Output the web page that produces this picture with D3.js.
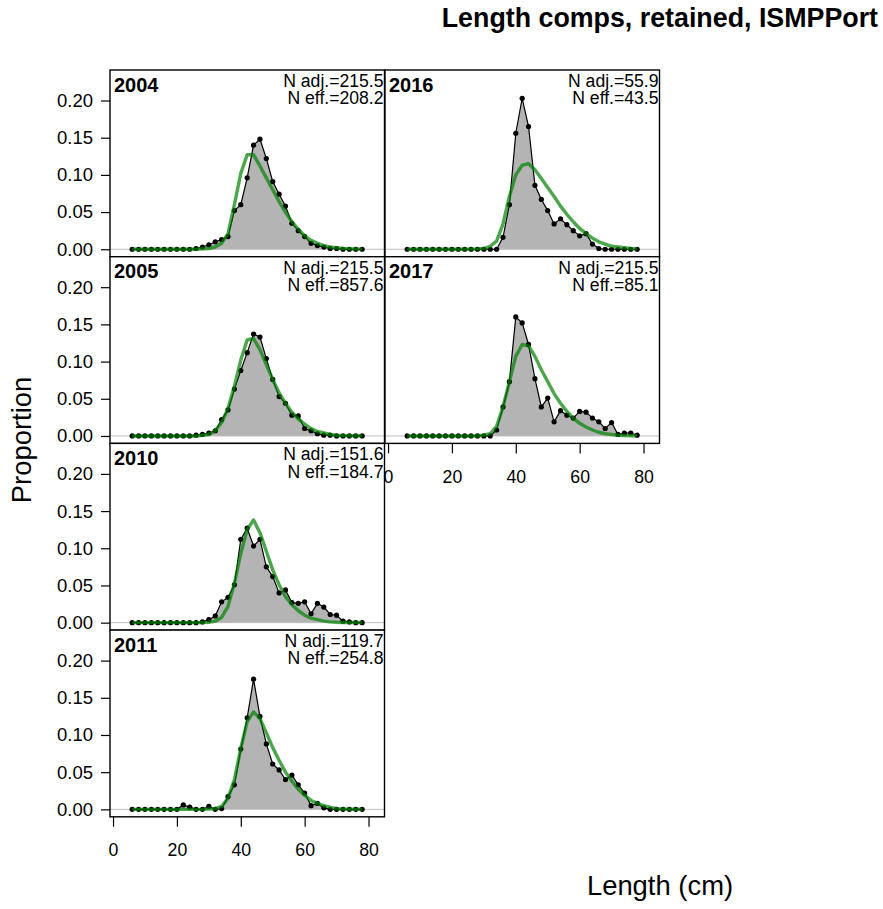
<!DOCTYPE html>
<html>
<head>
<meta charset="utf-8">
<script src="https://cdn.jsdelivr.net/npm/d3@7"></script>
<style>
body { margin: 0; background: #fff; }
text { font-family: "Liberation Sans", Arial, sans-serif; }
</style>
</head>
<body>
<div id="chart"></div>
<script>
// DATA
var lengthBins = [6, 8, 10, 12, 14, 16, 18, 20, 22, 24, 26, 28, 30, 32, 34, 36, 38, 40, 42,
  44, 46, 48, 50, 52, 54, 56, 58, 60, 62, 64, 66, 68, 70, 72, 74, 76, 78]

var years = ["2004", "2005", "2010", "2011", "2016", "2017"]
var nAdj = ["215.5", "215.5", "151.6", "119.7", "55.9", "215.5"]
var nEff = ["208.2", "857.6", "184.7", "254.8", "43.5", "85.1"]

var obs2004 = [0, 0, 0, 0, 0, 0, 0, 0, 0, 0, 0.001, 0.003, 0.006, 0.010, 0.013, 0.017, 0.052, 0.060, 0.096,
  0.140, 0.148, 0.122, 0.091, 0.074, 0.058, 0.035, 0.025, 0.017, 0.008, 0.005, 0.003, 0.001, 0.001, 0, 0, 0, 0]
var exp2004 = [0, 0, 0, 0, 0, 0, 0, 0, 0, 0, 0, 0.0005, 0.001, 0.003, 0.008, 0.021, 0.060, 0.102, 0.127,
  0.127, 0.112, 0.096, 0.080, 0.064, 0.050, 0.037, 0.027, 0.018, 0.012, 0.008, 0.005, 0.003, 0.002, 0.001, 0.0005, 0.0003, 0.0002]

var obs2005 = [0, 0, 0, 0, 0, 0, 0, 0, 0, 0, 0.001, 0.002, 0.004, 0.007, 0.022, 0.035, 0.063, 0.088, 0.112,
  0.137, 0.133, 0.104, 0.076, 0.053, 0.044, 0.028, 0.027, 0.010, 0.007, 0.003, 0.001, 0.001, 0, 0, 0, 0, 0]
var exp2005 = [0, 0, 0, 0, 0, 0, 0, 0, 0, 0, 0, 0.001, 0.002, 0.007, 0.018, 0.037, 0.067, 0.102, 0.129,
  0.131, 0.116, 0.096, 0.076, 0.058, 0.044, 0.032, 0.023, 0.016, 0.010, 0.006, 0.004, 0.002, 0.001, 0.0005, 0.0003, 0.0002, 0.0002]

var obs2010 = [0, 0, 0, 0, 0, 0, 0, 0, 0, 0, 0, 0.001, 0.004, 0.009, 0.028, 0.034, 0.051, 0.112, 0.127,
  0.103, 0.112, 0.075, 0.062, 0.040, 0.044, 0.027, 0.026, 0.028, 0.012, 0.026, 0.021, 0.011, 0.010, 0.002, 0.001, 0, 0]
var exp2010 = [0, 0, 0, 0, 0, 0, 0, 0, 0, 0, 0, 0.0002, 0.0005, 0.002, 0.007, 0.022, 0.053, 0.093, 0.125,
  0.138, 0.121, 0.096, 0.071, 0.051, 0.035, 0.024, 0.016, 0.010, 0.006, 0.004, 0.002, 0.001, 0.0005, 0.0002, 0.0002, 0.0002, 0.0002]

var obs2011 = [0, 0, 0, 0, 0, 0, 0, 0, 0.006, 0.003, 0, 0, 0.004, 0, 0.001, 0.017, 0.033, 0.081, 0.123,
  0.175, 0.125, 0.088, 0.061, 0.053, 0.040, 0.046, 0.033, 0.022, 0.005, 0.008, 0.002, 0, 0, 0, 0, 0, 0]
var exp2011 = [0, 0, 0, 0, 0, 0, 0, 0, 0, 0, 0, 0, 0.0005, 0.001, 0.004, 0.015, 0.040, 0.082, 0.118,
  0.131, 0.122, 0.103, 0.083, 0.066, 0.050, 0.038, 0.027, 0.019, 0.012, 0.008, 0.005, 0.003, 0.001, 0.0005, 0.0002, 0.0002, 0.0002]

var obs2016 = [0, 0, 0, 0, 0, 0, 0, 0, 0, 0, 0, 0, 0, 0, 0, 0.016, 0.060, 0.156, 0.203,
  0.165, 0.086, 0.067, 0.052, 0.034, 0.041, 0.033, 0.025, 0.018, 0.021, 0.007, 0.001, 0, 0, 0, 0, 0, 0]
var exp2016 = [0, 0, 0, 0, 0, 0, 0, 0, 0, 0, 0.0002, 0.0005, 0.001, 0.004, 0.011, 0.034, 0.071, 0.100, 0.113,
  0.115, 0.107, 0.095, 0.083, 0.071, 0.058, 0.047, 0.037, 0.028, 0.021, 0.015, 0.010, 0.007, 0.004, 0.003, 0.002, 0.001, 0.0005]

var obs2017 = [0, 0, 0, 0, 0, 0, 0, 0, 0, 0, 0, 0, 0, 0, 0.008, 0.039, 0.073, 0.160, 0.152,
  0.123, 0.077, 0.039, 0.051, 0.019, 0.034, 0.028, 0.024, 0.033, 0.032, 0.024, 0.019, 0.010, 0.018, 0.002, 0.004, 0.004, 0.001]
var exp2017 = [0, 0, 0, 0, 0, 0, 0, 0, 0, 0, 0, 0.0003, 0.001, 0.003, 0.013, 0.039, 0.073, 0.107, 0.123,
  0.121, 0.107, 0.089, 0.073, 0.057, 0.044, 0.033, 0.024, 0.017, 0.012, 0.008, 0.005, 0.003, 0.002, 0.001, 0.0005, 0.0003, 0.0002]

var observed = [obs2004, obs2005, obs2010, obs2011, obs2016, obs2017]
var expected = [exp2004, exp2005, exp2010, exp2011, exp2016, exp2017]

var yTicks = [0, 0.05, 0.10, 0.15, 0.20]
var xTicks = [0, 20, 40, 60, 80]

// LAYOUT
var panelW = 274.5, panelH = 186.7
var colX = [110, 385]
var rowY = [70, 256.7, 443.4, 630.1]
var panelCol = [0, 0, 0, 0, 1, 1]
var panelRow = [0, 1, 2, 3, 0, 1]

var x = d3.scaleLinear().domain([-0.95, 85]).range([0, panelW])
var y = d3.scaleLinear().domain([-0.01, 0.241]).range([panelH, 0])

var svg = d3.select("#chart").append("svg")
  .attr("width", 883)
  .attr("height", 909)

svg.append("rect").attr("width", 883).attr("height", 909).attr("fill", "#fff")

var area = d3.area()
  .x(function(d, i) { return x(lengthBins[i]) })
  .y0(y(0))
  .y1(function(d) { return y(d) })

var line = d3.line()
  .x(function(d, i) { return x(lengthBins[i]) })
  .y(function(d) { return y(d) })

//DRAW PANELS

years.forEach(function(yr, k) {
  var g = svg.append("g")
    .attr("transform", "translate(" + colX[panelCol[k]] + "," + rowY[panelRow[k]] + ")")

  g.append("rect")
    .attr("width", panelW).attr("height", panelH)
    .attr("fill", "#fff")

  g.append("path")
    .datum(observed[k])
    .attr("d", area)
    .attr("fill", "#b4b4b4")

  g.append("line")
    .attr("x1", 0).attr("x2", panelW)
    .attr("y1", y(0)).attr("y2", y(0))
    .attr("stroke", "#bebebe")
    .attr("stroke-width", 1)

  g.append("path")
    .datum(observed[k])
    .attr("d", line)
    .attr("fill", "none")
    .attr("stroke", "#000")
    .attr("stroke-width", 1.2)

  g.selectAll("circle")
    .data(observed[k])
    .enter()
    .append("circle")
      .attr("cx", function(d, i) { return x(lengthBins[i]) })
      .attr("cy", function(d) { return y(d) })
      .attr("r", 2.6)
      .attr("fill", "#000")

  g.append("path")
    .datum(expected[k])
    .attr("d", line)
    .attr("fill", "none")
    .attr("stroke", "rgb(0,128,0)")
    .attr("stroke-opacity", 0.7)
    .attr("stroke-width", 3.4)
    .attr("stroke-linejoin", "round")

  g.append("rect")
    .attr("width", panelW).attr("height", panelH)
    .attr("fill", "none")
    .attr("stroke", "#000")
    .attr("stroke-width", 1.4)

  g.append("text")
    .attr("x", 4).attr("y", 21.7)
    .attr("font-size", 20)
    .attr("font-weight", "bold")
    .text(yr)

  g.append("text")
    .attr("x", panelW - 1).attr("y", 17)
    .attr("text-anchor", "end")
    .attr("font-size", 17.6)
    .text("N adj.=" + nAdj[k])

  g.append("text")
    .attr("x", panelW - 1).attr("y", 34.4)
    .attr("text-anchor", "end")
    .attr("font-size", 17.6)
    .text("N eff.=" + nEff[k])

  if (panelCol[k] == 0) {
    var ya = g.append("g")
      .call(d3.axisLeft(y).tickValues(yTicks).tickFormat(d3.format(".2f"))
        .tickSize(9).tickSizeOuter(0).tickPadding(8))
    ya.attr("font-family", null).attr("font-size", 18.5)
    ya.select(".domain").remove()
    ya.selectAll("line").attr("stroke-width", 1.2)
    ya.selectAll("text").attr("fill", "#000")
  }

  // bottom panel of each column gets the length axis
  if (k == 3 || k == 5) {
    var xa = g.append("g")
      .attr("transform", "translate(0," + panelH + ")")
      .call(d3.axisBottom(x).tickValues(xTicks).tickSize(10).tickSizeOuter(0).tickPadding(17))
    xa.attr("font-family", null).attr("font-size", 17.7)
    xa.select(".domain").remove()
    xa.selectAll("line").attr("stroke-width", 1.2)
    xa.selectAll("text").attr("fill", "#000")
  }
})

// TITLES
svg.append("text")
  .attr("x", 878).attr("y", 27)
  .attr("text-anchor", "end")
  .attr("font-size", 26.8)
  .attr("font-weight", "bold")
  .text("Length comps, retained, ISMPPort")

svg.append("text")
  .attr("transform", "translate(31,440) rotate(-90)")
  .attr("text-anchor", "middle")
  .attr("font-size", 27.4)
  .text("Proportion")

svg.append("text")
  .attr("x", 660).attr("y", 895)
  .attr("text-anchor", "middle")
  .attr("font-size", 27.4)
  .text("Length (cm)")
</script>
</body>
</html>
